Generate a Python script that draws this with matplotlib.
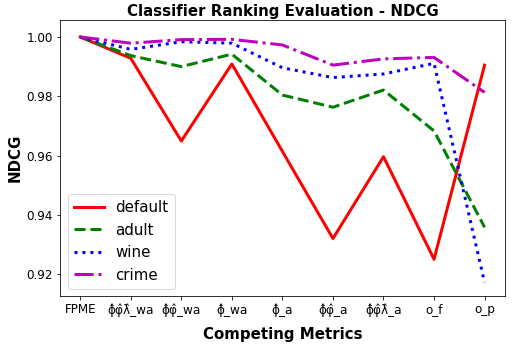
import matplotlib
matplotlib.use("Agg")
import matplotlib.pyplot as plt

metrics = ["FPME", "\u03d5\u0302\u03c6\u0302\u03bb\u0302_wa", "\u03d5\u0302\u03c6\u0302_wa", "\u03d5\u0302_wa",
           "\u03d5\u0302_a", "\u03d5\u0302\u03c6\u0302_a", "\u03d5\u0302\u03c6\u0302\u03bb\u0302_a", "o_f", "o_p"]
default = [1.000, 0.9928, 0.9649, 0.9909, 0.9614, 0.9320, 0.9596, 0.9250, 0.9905]
adult = [1.000, 0.9937, 0.9900, 0.9942, 0.9804, 0.9763, 0.9821, 0.9683, 0.9358]
wine = [1.000, 0.9958, 0.9984, 0.9979, 0.9896, 0.9863, 0.9875, 0.9911, 0.9172]
crime = [1.000, 0.9979, 0.9991, 0.9992, 0.9973, 0.9905, 0.9926, 0.9931, 0.9813]

fig, ax = plt.subplots(figsize=(513 / 72, 352 / 72), dpi=72)
x = range(len(metrics))
ax.plot(x, default, 'r-', lw=3, label='default')
ax.plot(x, adult, 'g--', lw=3, label='adult')
ax.plot(x, wine, 'b:', lw=3, label='wine')
ax.plot(x, crime, 'm-.', lw=3, label='crime')
ax.set_xticks(list(x))
ax.set_xticklabels(metrics, fontsize=12)
ax.tick_params(axis='y', labelsize=12)
ax.set_ylim(0.9126, 1.0057)
ax.set_title('Classifier Ranking Evaluation - NDCG', fontsize=15, fontweight='bold', pad=4)
ax.set_xlabel('Competing Metrics', fontsize=15, fontweight='bold', labelpad=10)
ax.set_ylabel('NDCG', fontsize=15, fontweight='bold')
ax.legend(loc='lower left', fontsize=15)
fig.subplots_adjust(left=0.117, right=0.984, top=0.943, bottom=0.159)
fig.savefig('out.png', dpi=72)
